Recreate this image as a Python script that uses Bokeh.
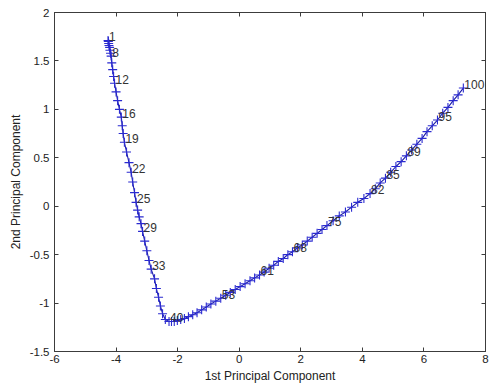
from bokeh.plotting import figure
from bokeh.models import Range1d, FixedTicker, LinearAxis, NumeralTickFormatter, ColumnDataSource
from bokeh.core.properties import value
from bokeh.embed import file_html
from bokeh.resources import INLINE

# Scores on the first two principal components for observations 1..100
pc1 = [
    -4.26, -4.25, -4.24, -4.23, -4.21, -4.20, -4.18, -4.16, -4.14, -4.11,
    -4.08, -4.05, -4.00, -3.95, -3.89, -3.83, -3.80, -3.77, -3.73, -3.66,
    -3.58, -3.51, -3.46, -3.40, -3.35, -3.30, -3.25, -3.19, -3.14, -3.07,
    -3.00, -2.93, -2.86, -2.75, -2.69, -2.62, -2.56, -2.49, -2.40, -2.28,
    -2.20, -2.11, -2.01, -1.90, -1.78, -1.65, -1.51, -1.37, -1.22, -1.07,
    -0.92, -0.76, -0.60, -0.44, -0.29, -0.13, 0.03, 0.19, 0.35, 0.50,
    0.66, 0.81, 0.97, 1.12, 1.27, 1.43, 1.58, 1.73, 1.89, 2.05,
    2.21, 2.37, 2.53, 2.69, 2.85, 3.05, 3.25, 3.45, 3.65, 3.85,
    4.05, 4.25, 4.42, 4.58, 4.75, 4.92, 5.09, 5.26, 5.43, 5.60,
    5.77, 5.94, 6.10, 6.27, 6.44, 6.61, 6.78, 6.95, 7.11, 7.28,
]
pc2 = [
    1.71, 1.70, 1.68, 1.66, 1.64, 1.61, 1.58, 1.55, 1.48, 1.41,
    1.34, 1.27, 1.18, 1.09, 1.00, 0.92, 0.83, 0.75, 0.66, 0.56,
    0.45, 0.35, 0.25, 0.14, 0.04, -0.04, -0.11, -0.18, -0.26, -0.36,
    -0.46, -0.56, -0.65, -0.75, -0.85, -0.94, -1.03, -1.11, -1.17, -1.19,
    -1.19, -1.19, -1.18, -1.17, -1.16, -1.14, -1.12, -1.10, -1.07, -1.04,
    -1.01, -0.98, -0.95, -0.92, -0.89, -0.86, -0.83, -0.80, -0.77, -0.74,
    -0.71, -0.68, -0.64, -0.61, -0.57, -0.54, -0.50, -0.47, -0.43, -0.40,
    -0.36, -0.32, -0.28, -0.24, -0.20, -0.15, -0.10, -0.06, -0.01, 0.04,
    0.08, 0.13, 0.18, 0.24, 0.29, 0.35, 0.41, 0.46, 0.52, 0.58,
    0.64, 0.70, 0.77, 0.83, 0.89, 0.96, 1.02, 1.09, 1.15, 1.22,
]
labelled = [1, 8, 12, 16, 19, 22, 25, 29, 33, 40, 53, 61, 68, 75, 82, 85, 89, 95, 100]
x_ticks = [-6, -4, -2, 0, 2, 4, 6, 8]
y_ticks = [-1.5, -1, -0.5, 0, 0.5, 1, 1.5, 2]
x_title = "1st Principal Component"
y_title = "2nd Principal Component"

FONT = "Liberation Sans"
AX = "#3c3c3c"

p = figure(width=491, height=389, output_backend="svg", toolbar_location=None,
           x_range=Range1d(-6, 8), y_range=Range1d(-1.5, 2),
           min_border_left=54, min_border_right=6, min_border_top=12, min_border_bottom=38)
p.background_fill_color = "white"
p.border_fill_color = "white"
p.outline_line_color = AX
p.outline_line_width = 1
p.xgrid.visible = False
p.ygrid.visible = False

for ax, ticks, title in ((p.xaxis[0], x_ticks, x_title), (p.yaxis[0], y_ticks, y_title)):
    ax.ticker = FixedTicker(ticks=ticks)
    ax.formatter = NumeralTickFormatter(format="0.[0]")
    ax.axis_label = title
    ax.axis_label_text_font = FONT
    ax.axis_label_text_font_size = "12px"
    ax.axis_label_text_font_style = "normal"
    ax.axis_label_text_color = "#222222"
    ax.major_label_text_font = FONT
    ax.major_label_text_font_size = "11.5px"
    ax.major_label_text_color = "#222222"
    ax.axis_line_color = AX
    ax.major_tick_line_color = AX
    ax.major_tick_in = 4
    ax.major_tick_out = 0
    ax.minor_tick_line_color = None

p.xaxis[0].major_label_standoff = 3
p.xaxis[0].axis_label_standoff = 3
p.yaxis[0].major_label_standoff = 5
p.yaxis[0].axis_label_standoff = 4

for side, ticks in (("right", y_ticks), ("above", x_ticks)):
    ax = LinearAxis(ticker=FixedTicker(ticks=ticks))
    ax.major_label_text_font_size = "1px"
    ax.major_label_text_color = None
    ax.major_label_standoff = 0
    ax.axis_line_color = AX
    ax.major_tick_line_color = AX
    ax.major_tick_in = 4
    ax.major_tick_out = 0
    ax.minor_tick_line_color = None
    p.add_layout(ax, side)

src = ColumnDataSource(dict(x=pc1, y=pc2))
p.line("x", "y", source=src, line_color="#1a1aa8", line_width=1.1)
p.scatter("x", "y", source=src, marker="cross", size=9, line_color="#2a2ad0", line_width=1.1)

lab = ColumnDataSource(dict(
    x=[pc1[i - 1] for i in labelled],
    y=[pc2[i - 1] for i in labelled],
    t=[str(i) for i in labelled],
))
p.text("x", "y", text="t", source=lab, text_font=value(FONT), text_font_size="12px",
       text_color="#333333", text_baseline="middle", text_align="left",
       x_offset=1, y_offset=-4)

open("out.html", "w").write(file_html(p, INLINE))
